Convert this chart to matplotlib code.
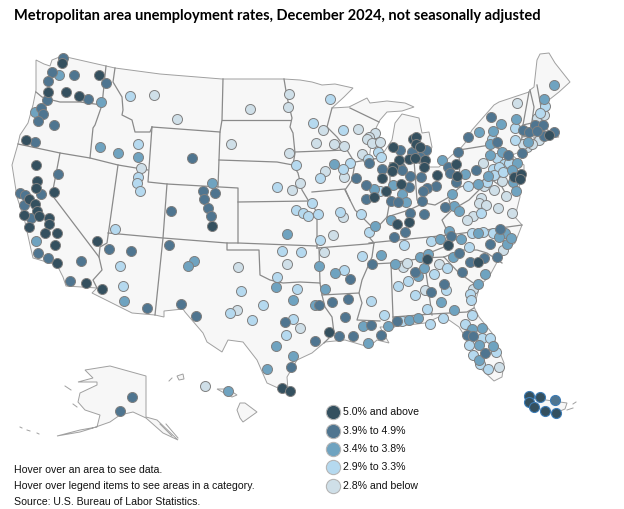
#!/usr/bin/env python3
# Metro area unemployment dot map, drawn in the picture's own pixel grid
import numpy as np
import matplotlib
matplotlib.use("Agg")
import matplotlib.pyplot as plt
from matplotlib.patches import Polygon

TITLE = "Metropolitan area unemployment rates, December 2024, not seasonally adjusted"
NOTES = [
    "Hover over an area to see data.",
    "Hover over legend items to see areas in a category.",
    "Source: U.S. Bureau of Labor Statistics.",
]
LEGEND_LABELS = ["5.0% and above", "3.9% to 4.9%", "3.4% to 3.8%", "2.9% to 3.3%", "2.8% and below"]
COLORS = ["#34505f", "#4f7590", "#6fa3c0", "#b5d9ef", "#cfdfe8"]

# ----------------------------------------------------------
# METRO AREAS, one list per rate class
# ----------------------------------------------------------
AREAS_5_PLUS = [
    (62,63),(99,75),(48,92),(66,92),(79,96),(26,140),(36,165),(37,181),(36,188),(54,192),(29,199),(35,204),
    (37,211),(39,216),(24,215),(49,218),(212,226),(29,227),(49,224),(45,233),(57,233),(97,241),(55,245),
    (57,263),(86,283),(102,289),(282,388),(290,391),(386,191),(374,197),(382,178),(401,184),(437,175),
    (393,147),(399,160),(393,167),(392,171),(409,159),(415,158),(413,139),(416,137),(416,144),(420,147),
    (425,160),(424,167),(456,164),(457,176),(549,135),(514,177),(521,174),(520,179),(397,224),(409,222),
    (329,332),(427,259),(478,262),(448,245),
]
AREAS_39_49 = [
    (63,58),(52,72),(74,75),(48,81),(106,83),(88,99),(47,100),(41,108),(43,114),(38,121),(54,125),(35,142),
    (192,158),(58,174),(41,194),(20,193),(25,195),(24,205),(31,218),(203,191),(215,193),(204,199),(208,208),
    (211,216),(171,211),(109,249),(131,251),(169,245),(38,253),(48,258),(81,261),(70,281),(147,308),(181,304),
    (196,316),(285,322),(291,367),(132,397),(120,411),(369,163),(356,178),(382,169),(366,185),(366,199),
    (409,187),(391,201),(398,202),(410,176),(421,177),(436,186),(427,188),(423,191),(422,201),(410,213),
    (424,214),(400,150),(400,167),(402,170),(412,152),(426,150),(420,157),(458,152),(448,167),(450,173),
    (456,182),(476,170),(468,137),(491,117),(497,142),(523,130),(529,132),(535,125),(543,125),(554,132),
    (544,136),(537,131),(522,153),(508,155),(445,207),(405,232),(394,237),(350,279),(372,264),(319,305),
    (332,302),(348,299),(345,317),(315,341),(339,336),(353,336),(371,325),(381,335),(397,321),(431,292),
    (444,284),(415,272),(459,253),(462,272),(470,262),(484,258),(497,257),(467,335),(473,336),(485,353),
    (451,236),(490,244),(500,229),
]
AREAS_34_38 = [
    (59,75),(101,102),(35,112),(100,147),(118,153),(138,157),(212,183),(36,241),(194,261),(188,266),(276,287),
    (293,300),(124,301),(276,346),(293,356),(267,369),(228,391),(287,234),(334,164),(374,189),(393,185),
    (402,194),(406,202),(391,220),(442,160),(465,174),(479,132),(501,124),(493,131),(490,144),(516,119),
    (544,99),(554,85),(528,142),(490,155),(502,152),(517,163),(512,170),(488,176),(513,182),(478,184),(516,191),
    (452,194),(454,206),(459,211),(375,226),(319,266),(335,273),(325,289),(315,305),(368,343),(363,326),
    (388,326),(409,320),(418,318),(441,302),(454,310),(381,255),(395,264),(418,276),(424,268),(420,257),
    (428,254),(453,257),(485,274),(478,284),(472,329),(482,328),(479,345),(493,346),(479,360),(440,239),
    (449,231),(461,239),(507,244),(505,233),(511,238),(499,237),(478,233),
]
AREAS_29_33 = [
    (130,96),(138,144),(138,177),(137,183),(140,191),(115,229),(296,165),(277,187),(312,203),(296,210),(303,213),
    (308,216),(120,266),(282,251),(301,252),(277,277),(297,289),(241,291),(123,286),(230,313),(263,305),(252,320),
    (293,319),(286,335),(330,99),(313,123),(343,130),(378,152),(381,157),(368,159),(350,163),(343,169),(320,178),
    (380,191),(361,214),(340,212),(318,214),(492,139),(515,128),(515,140),(545,106),(540,113),(497,158),(504,164),
    (493,169),(499,167),(509,163),(494,175),(503,172),(487,182),(468,186),(481,213),(369,232),(320,240),(362,256),
    (344,270),(371,301),(384,315),(402,321),(430,324),(443,318),(427,309),(415,295),(398,286),(408,281),(446,290),
    (404,245),(434,274),(447,268),(470,294),(471,300),(472,315),(465,324),(482,338),(490,338),(469,345),(496,352),
    (473,355),(480,364),(488,369),(431,241),(469,247),(493,233),(483,232),(472,233),
]
AREAS_28_BELOW = [
    (154,95),(177,119),(250,109),(289,94),(288,107),(231,144),(141,168),(289,153),(292,190),(300,183),(287,264),
    (238,267),(237,310),(300,328),(205,386),(323,130),(358,129),(316,143),(334,144),(344,146),(375,133),(369,137),
    (367,139),(372,143),(380,142),(362,154),(325,171),(344,177),(343,217),(517,103),(537,118),(544,115),(539,140),
    (527,147),(532,144),(523,144),(483,163),(502,181),(484,186),(494,190),(506,196),(481,198),(479,203),(486,205),
    (498,208),(512,213),(473,216),(467,220),(333,235),(324,252),(425,290),(403,267),(407,263),(439,264),(473,289),
    (499,367),(503,250),
]
AREAS_PR_5_PLUS = [(529,396),(540,397),(529,402),(534,407),(545,411),(556,413)]
AREAS_PR_39_49 = [(555,400)]

# ----------------------------------------------------------
# BASE MAP
# ----------------------------------------------------------
LOWER_48 = [
    (36,60),(44,64),(50,66),(52,60),(62,56),(106,66),(115,68),(160,74),(222,79),(284,79),(300,80),(312,82),(322,85),
    (335,84),(353,88),(344,97),(332,108),(349,107),(367,98),(370,103),(387,101),(405,103),(414,107),(402,111),
    (387,112),(380,120),(375,130),(371,145),(369,160),(380,158),(392,140),(395,123),(402,114),(419,118),(422,133),
    (429,132),(432,147),(427,160),(425,167),(439,167),(452,155),(459,150),(465,143),(472,130),(494,105),(499,102),
    (529,92),(530,90),(534,87),(537,60),(540,54),(549,53),(555,63),(570,82),(559,92),(545,103),(542,113),(549,133),
    (559,137),(545,138),(539,142),(525,150),(512,155),(524,165),(524,175),(519,187),(520,197),(515,217),(522,225),
    (515,243),(502,253),(489,277),(480,285),(474,307),(479,317),(492,333),(504,363),(502,377),(494,381),(479,367),
    (469,343),(459,327),(449,320),(439,317),(425,323),(392,327),(380,327),(389,343),(377,340),(369,347),(345,340),
    (325,342),(312,353),(297,360),(287,377),(288,390),(278,388),(267,383),(257,360),(243,342),(228,340),(222,352),
    (207,342),(203,333),(185,312),(183,309),(164,311),(164,317),(155,315),(132,313),(92,293),(97,288),(66,286),
    (63,277),(57,265),(33,258),(30,245),(25,222),(17,197),(12,165),(18,144),(20,135),(28,123),(33,105),(36,90),
]
STATE_LINES = [
    [(36,92),(42,97),(52,100),(60,102),(80,102),(102,105)],
    [(106,66),(102,105),(95,125),(93,128),(90,158)],
    [(115,68),(113,82),(122,97),(123,110),(122,115),(132,120),(135,132),(150,132),(152,127)],
    [(18,144),(60,153),(90,158),(118,165),(148,170)],
    [(152,127),(148,182),(167,184),(238,188),(238,243)],
    [(118,165),(107,243),(100,247),(99,257),(102,270),(93,280),(97,288)],
    [(60,153),(52,195),(99,257)],
    [(108,233),(163,238),(227,243),(238,243),(317,246)],
    [(167,184),(163,238),(155,315)],
    [(152,127),(220,132),(218,187)],
    [(223,79),(222,120),(220,132)],
    [(222,120),(290,120)],
    [(219,160),(277,162),(293,165)],
    [(284,79),(287,97),(292,118),(290,127),(293,133),(295,153),(293,165),(298,173),(302,190),(308,200),(312,205),(317,212),(317,248)],
    [(238,202),(310,201)],
    [(227,243),(227,250),(259,250),(260,275),(270,280),(283,283),(300,282),(320,283),(322,295),(325,307),(332,317),(334,333),(324,343)],
    [(319,248),(320,283)],
    [(322,295),(359,293)],
    [(317,248),(367,244),(374,243),(372,257),(362,280),(359,293),(362,303),(357,320),(380,321)],
    [(369,243),(449,235),(522,225)],
    [(372,264),(391,263),(424,258),(444,257)],
    [(449,235),(444,247),(429,253),(424,258)],
    [(391,263),(393,317),(394,327)],
    [(424,258),(432,315)],
    [(393,317),(432,314),(467,312),(474,308)],
    [(444,257),(462,250),(477,250),(487,253),(502,263)],
    [(444,257),(459,273),(479,287)],
    [(295,152),(347,150)],
    [(312,192),(345,189),(350,200)],
    [(332,108),(327,127),(337,137),(347,150),(355,163),(352,180),(345,190),(355,210),(365,220),(375,230),(369,237),(374,243)],
    [(355,162),(379,158)],
    [(350,108),(379,122)],
    [(390,163),(390,200),(387,217),(375,230)],
    [(387,217),(409,210),(424,203),(435,205),(444,200),(449,197),(460,187)],
    [(390,163),(414,160),(425,167)],
    [(414,160),(417,200)],
    [(459,150),(460,187),(512,172),(515,165)],
    [(459,150),(490,145),(502,150),(515,165),(512,155)],
    [(449,200),(452,210),(442,220),(449,235)],
    [(452,210),(469,200),(479,190),(492,180),(502,187),(509,200)],
    [(510,172),(515,187)],
    [(529,92),(523,125),(522,137),(520,150)],
    [(523,125),(545,120)],
    [(522,137),(549,133)],
    [(530,90),(534,107),(531,128)],
    [(537,85),(542,113)],
    [(534,137),(535,146)],
]
ALASKA = [
    (85,370),(110,366),(146,376),(146,417),(157,420),(178,440),(163,433),(146,418),(133,412),(120,415),(110,422),
    (93,428),(80,432),(57,436),(80,430),(97,427),(100,415),(85,410),(78,402),(80,393),(97,385),(97,382),(78,382),
    (93,378),
]
ALASKA_BITS = [[(65,386),(71,390)],[(73,404),(77,407)],[(20,427),(22,428)],[(27,430),(30,431)],[(37,433),(39,434)],[(160,424),(172,436)],[(166,424),(178,438)]]
HAWAII = [
    [(237,410),(240,403),(245,403),(257,412),(250,417),(243,422),(240,418)],
    [(217,389),(228,389),(237,395),(232,397),(226,394)],
    [(177,376),(183,374),(184,379),(179,380)],
]
HAWAII_BITS = [[(169,381),(172,378)]]
PUERTO_RICO = [(525,397),(567,403),(565,409),(555,413),(529,406)]
PR_BITS = [[(573,404),(576,402)],[(567,410),(573,408)]]

LAND = "#f7f7f7"
BORDER = "#8a8a8a"
COAST = "#a0a0a0"

fig = plt.figure(figsize=(6.24, 5.09), dpi=100)
ax = fig.add_axes([0, 0, 1, 1])
ax.set_xlim(0, 624)
ax.set_ylim(509, 0)
ax.axis("off")

for shape in [LOWER_48, ALASKA, PUERTO_RICO] + HAWAII:
    ax.add_patch(Polygon(shape, closed=True, facecolor=LAND, edgecolor=COAST, linewidth=0.7, zorder=1))

for line in STATE_LINES:
    xs, ys = zip(*line)
    ax.plot(xs, ys, color=BORDER, linewidth=0.9, solid_joinstyle="round", zorder=2)

for line in ALASKA_BITS + HAWAII_BITS + PR_BITS:
    xs, ys = zip(*line)
    ax.plot(xs, ys, color=COAST, linewidth=0.7, zorder=2)

# light classes first, so the dark ones end up on top
groups = [AREAS_28_BELOW, AREAS_29_33, AREAS_34_38, AREAS_39_49, AREAS_5_PLUS]
for zo, (pts, col) in enumerate(zip(groups, COLORS[::-1])):
    pts = np.array(pts)
    ax.scatter(pts[:, 0], pts[:, 1], s=52, color=col, edgecolor="#808080", linewidth=0.7, zorder=3 + zo)

for pts, col in [(AREAS_PR_39_49, COLORS[1]), (AREAS_PR_5_PLUS, COLORS[0])]:
    pts = np.array(pts)
    ax.scatter(pts[:, 0], pts[:, 1], s=52, color=col, edgecolor="#3d7cb5", linewidth=0.8, zorder=9)

# legend
legend_y = [412, 430.5, 449, 467, 486]
for y, label, col in zip(legend_y, LEGEND_LABELS, COLORS):
    ax.scatter([333], [y], s=105, color=col, edgecolor="#b5b5b5", linewidth=0.8, zorder=9)
    ax.text(343, y, label, fontsize=7.6, family="Liberation Sans", color="#111111", va="center", ha="left")

ax.text(14, 16, TITLE, fontsize=10.5, family="Lato", fontweight="bold", color="#000000", va="center", ha="left")
for y, note in zip([470, 486, 502], NOTES):
    ax.text(14, y, note, fontsize=7.6, family="Liberation Sans", color="#111111", va="center", ha="left")

fig.savefig("out.png", dpi=100)
plt.close(fig)
